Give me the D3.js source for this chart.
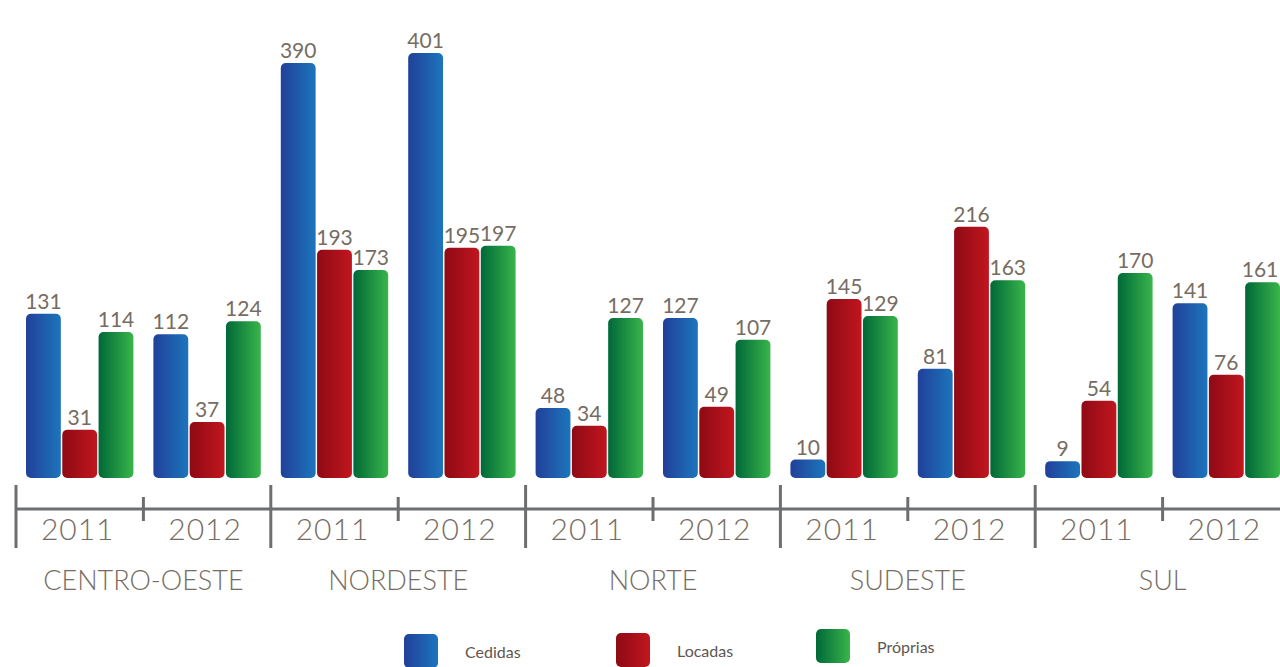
<!DOCTYPE html>
<html lang="pt">
<head>
<meta charset="UTF-8">
<title>Unidades por região</title>
<script src="https://d3js.org/d3.v7.min.js"></script>
<style>
  body { margin: 0; padding: 0; background: #fff; }
  text { font-family: Lato, "Open Sans", sans-serif; fill: #766c62; }
</style>
</head>
<body>
<svg id="chart" width="1280" height="667"></svg>
<script>
// data
const regions = ["CENTRO-OESTE", "NORDESTE", "NORTE", "SUDESTE", "SUL"];
const years = ["2011", "2012"];
const series = ["Cedidas", "Locadas", "Próprias"];
// one value per region/year, in the order above
const cedidas  = [131, 112, 390, 401, 48, 127, 10, 81, 9, 141];
const locadas  = [31, 37, 193, 195, 34, 49, 145, 216, 54, 76];
const proprias = [114, 124, 173, 197, 127, 107, 129, 163, 170, 161];

const seriesValues = [cedidas, locadas, proprias];
const gradStops = [
  ["#21409a", "#1c75bc"],
  ["#8e0a14", "#c1161f"],
  ["#006838", "#39b54a"]
];

const W = 1280;
const svg = d3.select("#chart");
const baseY = 478;
const axisY = 509;

// gradients
const defs = svg.append("defs");
series.forEach(function(s, i) {
  const g = defs.append("linearGradient")
    .attr("id", "grad" + i)
    .attr("x1", "0%").attr("x2", "100%")
    .attr("y1", "0%").attr("y2", "0%");
  g.append("stop").attr("offset", "0%").attr("stop-color", gradStops[i][0]);
  g.append("stop").attr("offset", "100%").attr("stop-color", gradStops[i][1]);
});

// scales
const xRegion = d3.scaleBand().domain(regions).range([16, 1290]);
const xYear = d3.scaleBand().domain(years).range([0, xRegion.bandwidth()]);
const xSeries = d3.scaleBand().domain(series)
  .range([10, xYear.bandwidth() - 10])
  .paddingInner(0.04);
// the original drawing is not strictly linear; a mild power scale fits it
const h = d3.scalePow().exponent(0.85).domain([0, 401]).range([0, 425]);

// flatten
const rows = [];
regions.forEach(function(r, ri) {
  years.forEach(function(y, yi) {
    series.forEach(function(s, si) {
      rows.push({ region: r, year: y, series: s, si: si,
                  value: seriesValues[si][ri * 2 + yi] });
    });
  });
});

const barX = function(d) { return xRegion(d.region) + xYear(d.year) + xSeries(d.series); };

// bars
svg.append("g").selectAll("rect")
  .data(rows)
  .enter().append("rect")
  .attr("x", barX)
  .attr("y", function(d) { return baseY - h(d.value); })
  .attr("width", xSeries.bandwidth())
  .attr("height", function(d) { return h(d.value); })
  .attr("rx", 5).attr("ry", 5)
  .style("fill", function(d) { return "url(#grad" + d.si + ")"; });

// value labels (kept inside the right edge)
svg.append("g").selectAll("text")
  .data(rows)
  .enter().append("text")
  .attr("x", function(d) { return Math.min(barX(d) + xSeries.bandwidth() / 2, W - 20); })
  .attr("y", function(d) { return baseY - h(d.value) - 5; })
  .attr("text-anchor", "middle")
  .style("font-size", "21px")
  .style("font-weight", 400)
  .text(function(d) { return d.value; });

// axis
const axis = svg.append("g").style("stroke", "#6d6e70").style("stroke-width", 3);
axis.append("line")
  .attr("x1", xRegion(regions[0])).attr("x2", W)
  .attr("y1", axisY).attr("y2", axisY);
const majors = regions.map(function(r) { return xRegion(r); }).concat([xRegion.range()[1]]);
axis.selectAll("line.major")
  .data(majors)
  .enter().append("line").attr("class", "major")
  .attr("x1", function(d) { return d; }).attr("x2", function(d) { return d; })
  .attr("y1", 485).attr("y2", 548);
axis.selectAll("line.minor")
  .data(regions)
  .enter().append("line").attr("class", "minor")
  .attr("x1", function(r) { return xRegion(r) + xYear("2012"); })
  .attr("x2", function(r) { return xRegion(r) + xYear("2012"); })
  .attr("y1", 497).attr("y2", 521);

// year labels
const yearLabels = [];
regions.forEach(function(r) { years.forEach(function(y) { yearLabels.push({ region: r, year: y }); }); });
svg.append("g").selectAll("text")
  .data(yearLabels)
  .enter().append("text")
  .attr("x", function(d) { return xRegion(d.region) + xYear(d.year) + xYear.bandwidth() / 2 - 2; })
  .attr("y", 540)
  .attr("text-anchor", "middle")
  .style("font-size", "30px")
  .style("font-weight", 300)
  .style("letter-spacing", "1px")
  .text(function(d) { return d.year; });

// region labels
svg.append("g").selectAll("text")
  .data(regions)
  .enter().append("text")
  .attr("x", function(r) { return xRegion(r) + xRegion.bandwidth() / 2; })
  .attr("y", 590)
  .attr("text-anchor", "middle")
  .style("font-size", "27px")
  .style("font-weight", 300)
  .text(function(r) { return r; });

// legend
const legX = [404, 616, 816];
const legY = [634, 633, 629];
const legend = svg.append("g").selectAll("g")
  .data(series)
  .enter().append("g")
  .attr("transform", function(d, i) { return "translate(" + legX[i] + "," + legY[i] + ")"; });
legend.append("rect")
  .attr("width", 34).attr("height", 34)
  .attr("rx", 5).attr("ry", 5)
  .style("fill", function(d, i) { return "url(#grad" + i + ")"; });
legend.append("text")
  .attr("x", 61).attr("y", 24)
  .style("font-size", "16px")
  .style("fill", "#5e5650")
  .text(function(d) { return d; });
</script>
</body>
</html>
